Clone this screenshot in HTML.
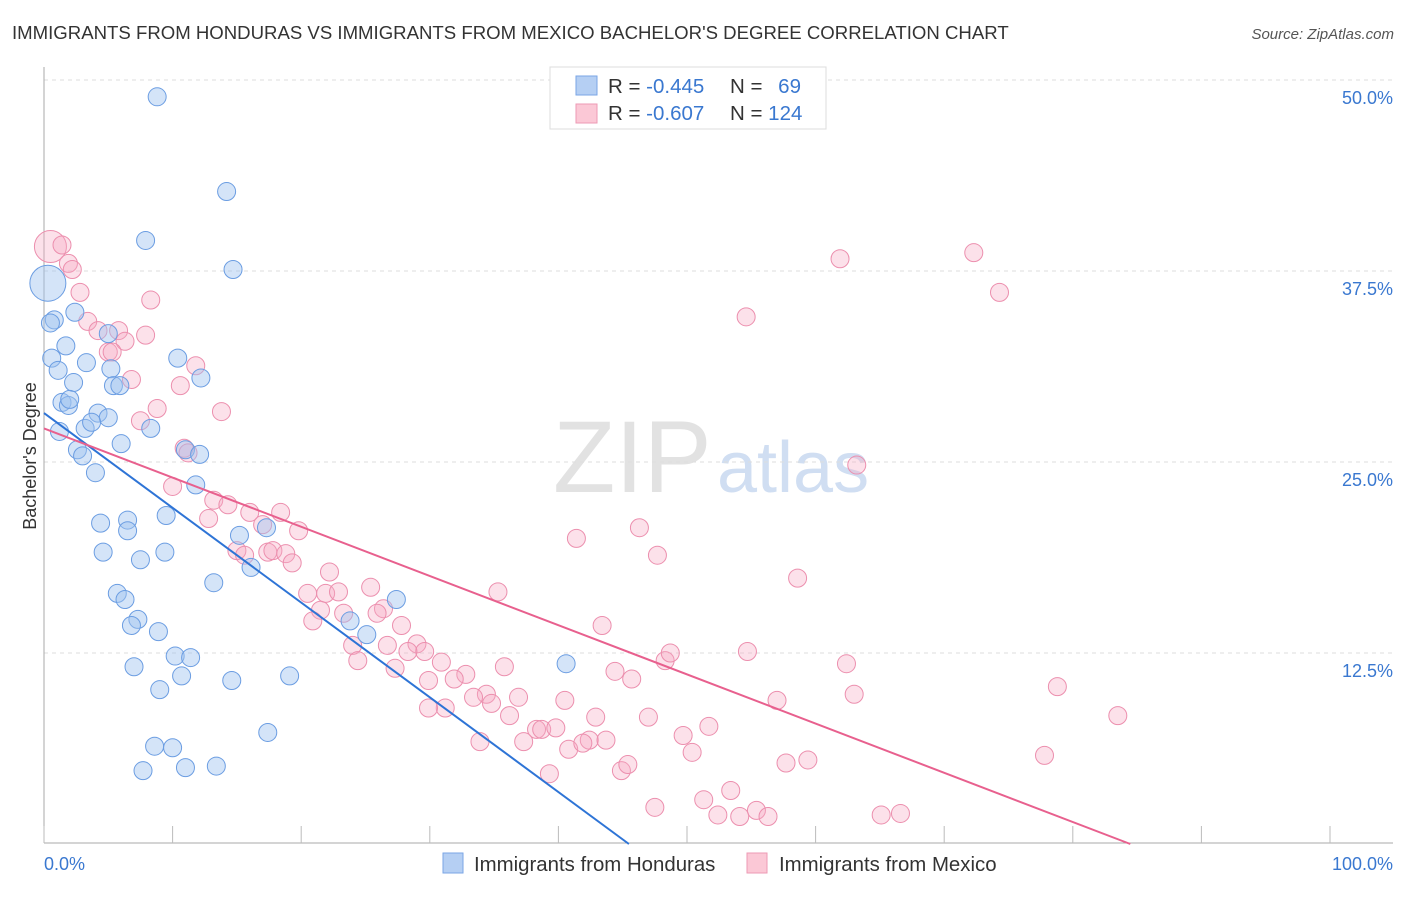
<!DOCTYPE html>
<html><head><meta charset="utf-8"><style>
body{margin:0;background:#fff;font-family:"Liberation Sans",sans-serif;}
svg text{font-family:"Liberation Sans",sans-serif;}
</style></head><body>
<svg id="chart" width="1406" height="892">
<text x="12" y="39" font-size="18.6" fill="#333">IMMIGRANTS FROM HONDURAS VS IMMIGRANTS FROM MEXICO BACHELOR'S DEGREE CORRELATION CHART</text>
<text x="1394" y="39" font-size="15" fill="#555" font-style="italic" text-anchor="end">Source: ZipAtlas.com</text>
<g>
<text x="553" y="492" font-size="102" font-family="Liberation Serif,serif" fill="#e2e2e2">ZIP</text>
<text x="717" y="492" font-size="72" fill="#d0def2">atlas</text>
</g>
<g id="grid"></g>
<line x1="44" y1="67" x2="44" y2="843" stroke="#aaa"/>
<line x1="44" y1="843" x2="1393" y2="843" stroke="#aaa"/>
<g id="xticks"></g>
<text x="36" y="456" font-size="18" fill="#333" transform="rotate(-90 36 456)" text-anchor="middle">Bachelor's Degree</text>
<g id="pts"></g>
<g id="lines"></g>
<g>
<rect x="550" y="67" width="276" height="62" fill="#fff" stroke="#ddd"/>
<rect x="576" y="76" width="21" height="19" fill="#b5cff3" stroke="#7aa6e6"/>
<rect x="576" y="104" width="21" height="19" fill="#fbc8d6" stroke="#ee9ab4"/>
<text x="608" y="93" font-size="20.5" fill="#333">R = <tspan fill="#3a78d0">-0.445</tspan></text>
<text x="730" y="93" font-size="20.5" fill="#333">N = <tspan fill="#3a78d0" dx="10">69</tspan></text>
<text x="608" y="120" font-size="20.5" fill="#333">R = <tspan fill="#3a78d0">-0.607</tspan></text>
<text x="730" y="120" font-size="20.5" fill="#333">N = <tspan fill="#3a78d0">124</tspan></text>
</g>
<g>
<rect x="443" y="853" width="20" height="20" fill="#b5cff3" stroke="#7aa6e6"/>
<text x="474" y="871" font-size="20.4" fill="#333">Immigrants from Honduras</text>
<rect x="747" y="853" width="20" height="20" fill="#fbc8d6" stroke="#ee9ab4"/>
<text x="779" y="871" font-size="20.4" fill="#333">Immigrants from Mexico</text>
</g>
</svg>
<script>
const yTicks=[12.5,25,37.5,50];
const yTickLabels=["12.5%","25.0%","37.5%","50.0%"];
const xTickVals=[0,10,20,30,40,50,60,70,80,90,100];
const xLabels=["0.0%","100.0%"];
const blueX=[8.8,14.2,7.9,14.7,0.3,0.8,0.5,2.4,1.7,0.6,1.1,5.0,3.3,5.2,2.3,5.4,5.9,10.4,12.2,1.4,1.9,2.0,4.2,5.0,3.2,3.7,1.2,8.3,6.0,2.6,3.0,11.0,12.1,4.0,11.8,9.5,4.4,6.5,6.5,15.2,17.3,4.6,9.4,7.5,16.1,13.2,5.7,6.3,27.4,7.3,6.8,8.9,23.8,25.1,7.0,10.2,11.4,10.7,9.0,14.6,19.1,40.6,17.4,8.6,10.0,7.7,11.0,13.4];
const blueY=[48.9,42.7,39.5,37.6,36.7,34.3,34.1,34.8,32.6,31.8,31.0,33.4,31.5,31.1,30.2,30.0,30.0,31.8,30.5,28.9,28.7,29.1,28.2,27.9,27.2,27.6,27.0,27.2,26.2,25.8,25.4,25.8,25.5,24.3,23.5,21.5,21.0,21.2,20.5,20.2,20.7,19.1,19.1,18.6,18.1,17.1,16.4,16.0,16.0,14.7,14.3,13.9,14.6,13.7,11.6,12.3,12.2,11.0,10.1,10.7,11.0,11.8,7.3,6.4,6.3,4.8,5.0,5.1];
const pinkX=[0.5,1.4,1.9,2.2,2.8,8.3,3.4,4.2,5.8,7.9,6.3,5.0,5.3,11.8,6.8,10.6,13.8,8.8,7.5,10.9,11.2,10.0,13.2,14.3,12.8,16.0,18.4,17.0,19.8,15.0,15.6,17.4,17.8,18.8,19.3,22.2,20.5,21.9,22.9,25.4,26.4,21.5,20.9,23.3,25.9,27.8,24.0,26.7,29.0,29.6,28.3,24.4,27.3,30.9,32.8,31.9,29.9,35.3,35.8,41.4,46.3,47.7,43.4,44.4,45.7,48.3,48.7,54.7,58.6,63.2,61.9,72.3,74.3,54.6,62.4,63.0,78.8,83.5,77.8,34.4,33.4,31.2,29.9,36.9,34.8,40.5,42.9,47.0,36.2,38.3,38.7,39.8,37.3,33.9,40.8,42.4,43.7,41.9,49.7,51.7,57.0,50.4,39.3,44.9,45.4,53.4,51.3,52.4,54.1,55.4,56.3,47.5,65.1,66.6,59.4,57.7];
const pinkY=[39.1,39.2,38.0,37.6,36.1,35.6,34.2,33.6,33.6,33.3,32.9,32.2,32.2,31.3,30.4,30.0,28.3,28.5,27.7,25.9,25.6,23.4,22.5,22.2,21.3,21.7,21.7,20.9,20.5,19.2,18.9,19.1,19.2,19.0,18.4,17.8,16.4,16.4,16.5,16.8,15.4,15.3,14.6,15.1,15.1,14.3,13.0,13.0,13.1,12.6,12.6,12.0,11.5,11.9,11.1,10.8,10.7,16.5,11.6,20.0,20.7,18.9,14.3,11.3,10.8,12.0,12.5,12.6,17.4,24.8,38.3,38.7,36.1,34.5,11.8,9.8,10.3,8.4,5.8,9.8,9.6,8.9,8.9,9.6,9.2,9.4,8.3,8.3,8.4,7.5,7.5,7.6,6.7,6.7,6.2,6.8,6.8,6.6,7.1,7.7,9.4,6.0,4.6,4.8,5.2,3.5,2.9,1.9,1.8,2.2,1.8,2.4,1.9,2.0,5.5,5.3];
const blueBig=[4];
const pinkBig=[0];
const blueTrend=[28.2,-0.62];
const pinkTrend=[27.2,-0.322];
const xs=v=>44+v*12.86, ys=v=>844-v*15.28;
const NS='http://www.w3.org/2000/svg';
function mk(t,a,p){const e=document.createElementNS(NS,t);for(const k in a)e.setAttribute(k,a[k]);p.appendChild(e);return e;}
const grid=document.getElementById('grid');
yTicks.forEach((v,i)=>{
  const l=mk('line',{x1:44,x2:1393,y1:ys(v),y2:ys(v),stroke:'#ddd','stroke-dasharray':'4,4'},grid);
  
  
  const t=mk('text',{x:1393,y:ys(v)+24,'font-size':18,fill:'#3a78d0','text-anchor':'end'},grid);
  t.textContent=yTickLabels[i];
  
  
});
const xt=document.getElementById('xticks');
xTickVals.forEach(v=>{
  const l=mk('line',{x1:xs(v),x2:xs(v),y1:826,y2:843,stroke:'#bbb'},xt);
  
  
});
[[0,44,'start'],[100,1393,'end']].forEach((d,i)=>{
  const t=mk('text',{x:d[1],y:870,'font-size':18,fill:'#3a78d0','text-anchor':d[2]},xt);
  t.textContent=xLabels[i];
  
  
});
const pts=document.getElementById('pts');
pinkX.forEach((x,i)=>{
  const c=mk('circle',{cx:xs(x),cy:ys(pinkY[i]),r:pinkBig.includes(i)?16:9,fill:'rgba(246,168,194,0.35)',stroke:'#ec8fae','stroke-width':1},pts);
  
  
});
blueX.forEach((x,i)=>{
  const c=mk('circle',{cx:xs(x),cy:ys(blueY[i]),r:blueBig.includes(i)?18:9,fill:'rgba(160,195,240,0.45)',stroke:'#6b9de2','stroke-width':1},pts);
  
  
});
const ln=document.getElementById('lines');
function trend(tr,col,name){
  const xe=Math.min(100,-tr[0]/tr[1]);
  const l=mk('line',{x1:xs(0),y1:ys(tr[0]),x2:xs(xe),y2:ys(tr[0]+tr[1]*xe),stroke:col,'stroke-width':2},ln);
  
  
}
trend(blueTrend,'#2e74d6','honduras-trend-line');
trend(pinkTrend,'#e8608e','mexico-trend-line');
</script>
</body></html>
